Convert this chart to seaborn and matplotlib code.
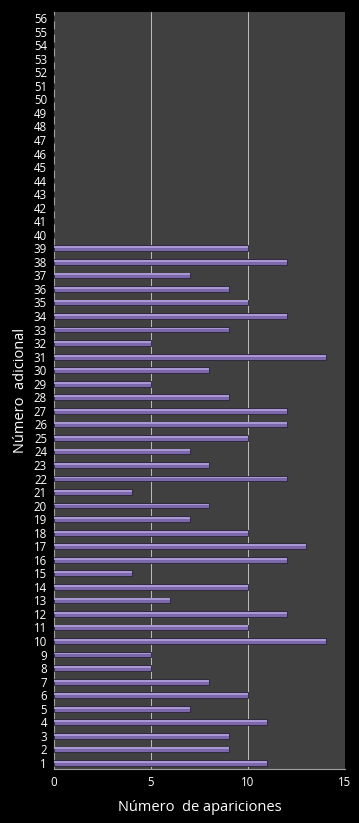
import matplotlib
matplotlib.use("Agg")
import matplotlib.pyplot as plt
import seaborn as sns
import pandas as pd

numeros = list(range(1, 57))
apariciones = [11, 9, 9, 11, 7, 10, 8, 5, 5, 14,
               10, 12, 6, 10, 4, 12, 13, 10, 7, 8,
               4, 12, 8, 7, 10, 12, 12, 9, 5, 8,
               14, 5, 9, 12, 10, 9, 7, 12, 10] + [0] * 17
x_ticks = [0, 5, 10, 15]

df = pd.DataFrame({"numero": [str(n) for n in numeros], "apariciones": apariciones})
orden = [str(n) for n in reversed(numeros)]

sns.set_style("dark")
plt.rcParams["font.family"] = ["Open Sans", "DejaVu Sans"]

fig = plt.figure(figsize=(3.59, 8.23), dpi=100, facecolor="black")
ax = fig.add_axes([0.1504, 0.0656, 0.8106, 0.9198])
ax.set_facecolor("#404040")

sns.barplot(data=df, x="apariciones", y="numero", order=orden, orient="h",
            color="#7d68ab", saturation=1, width=0.42,
            edgecolor="#2a2238", linewidth=0.6, ax=ax)
n_base = len(ax.patches)
# lighter highlight along the top half of each bar
sns.barplot(data=df, x="apariciones", y="numero", order=orden, orient="h",
            color="#a997d4", saturation=1, width=0.14,
            linewidth=0, ax=ax)
for i, p in enumerate(ax.patches):
    p.set_zorder(3 if i < n_base else 4)
    if i >= n_base:
        p.set_y(p.get_y() - 0.08)

ax.set_xlim(0, 15)
ax.set_ylim(55.45, -0.45)
ax.set_xticks(x_ticks)
ax.xaxis.grid(True, color="#bdbdbd", linewidth=0.7)
ax.yaxis.grid(False)
ax.set_axisbelow(True)

for s in ["top", "right"]:
    ax.spines[s].set_visible(False)
for s in ["left", "bottom"]:
    ax.spines[s].set_color("#a0a0a0")
    ax.spines[s].set_linewidth(0.8)

ax.tick_params(axis="both", colors="white", labelsize=8.3, length=0, pad=5)
ax.set_xlabel("Número  de apariciones", color="white", fontsize=10.5, labelpad=8)
ax.set_ylabel("Número  adicional", color="white", fontsize=10.5, labelpad=4)

fig.savefig("out.png", dpi=100, facecolor="black")
